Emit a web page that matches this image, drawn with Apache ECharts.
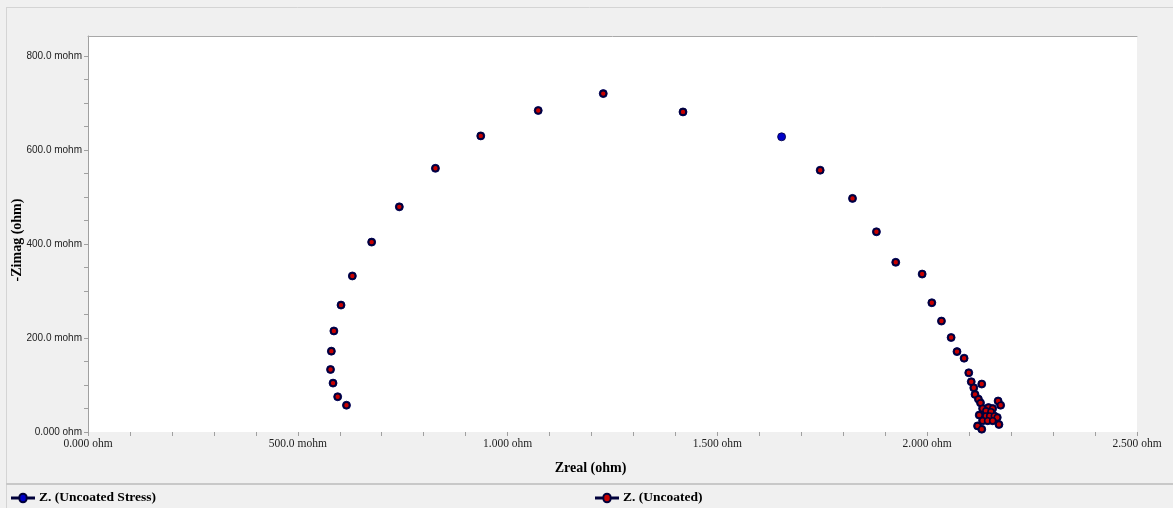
<!DOCTYPE html>
<html>
<head>
<meta charset="utf-8">
<script src="https://cdn.jsdelivr.net/npm/echarts@6/dist/echarts.min.js"></script>
<style>
html,body{margin:0;padding:0;background:#f0f0f0;}
#chart{width:1173px;height:508px;}
</style>
</head>
<body>
<div id="chart"></div>
<script>
// Zreal (ohm)
const zRealStress = [0.616,0.595,0.584,0.578,0.580,0.586,0.603,0.630,0.676,0.742,0.828,0.936,1.073,1.228,1.418,1.653,1.745,1.822,1.879,1.925,1.988,2.011,2.034,2.057,2.071,2.088,2.099,2.105,2.130,2.111,2.114,2.122,2.127,2.169,2.175,2.132,2.146,2.156,2.140,2.152,2.124,2.140,2.149,2.160,2.167,2.132,2.144,2.156,2.171,2.120,2.130];
// -Zimag (mohm)
const zImagStress = [57,75,104,133,172,215,270,332,404,479,561,630,684,720,681,628,557,497,426,361,336,275,236,201,171,157,126,107,102,94,80,70,62,66,57,50,52,50,45,43,36,34,34,34,31,24,24,24,16,13,6];
const zRealUncoated = [0.616,0.595,0.584,0.578,0.580,0.586,0.603,0.630,0.676,0.742,0.828,0.936,1.073,1.228,1.418,1.745,1.822,1.879,1.925,1.988,2.011,2.034,2.057,2.071,2.088,2.099,2.105,2.130,2.111,2.114,2.122,2.127,2.169,2.175,2.132,2.146,2.156,2.140,2.152,2.124,2.140,2.149,2.160,2.167,2.132,2.144,2.156,2.171,2.120,2.130];
const zImagUncoated = [57,75,104,133,172,215,270,332,404,479,561,630,684,720,681,557,497,426,361,336,275,236,201,171,157,126,107,102,94,80,70,62,66,57,50,52,50,45,43,36,34,34,34,31,24,24,24,16,13,6];

const seriesNames = ['Z. (Uncoated Stress)', 'Z. (Uncoated)'];
const xTickValues = [0, 0.5, 1.0, 1.5, 2.0, 2.5];
const xTickLabels = ['0.000 ohm', '500.0 mohm', '1.000 ohm', '1.500 ohm', '2.000 ohm', '2.500 ohm'];
const xMinorTicks = [0,0.1,0.2,0.3,0.4,0.5,0.6,0.7,0.8,0.9,1.0,1.1,1.2,1.3,1.4,1.5,1.6,1.7,1.8,1.9,2.0,2.1,2.2,2.3,2.4,2.5];
const yTickValues = [0, 200, 400, 600, 800];
const yTickLabels = ['0.000 ohm', '200.0 mohm', '400.0 mohm', '600.0 mohm', '800.0 mohm'];
const yMinorTicks = [0,50,100,150,200,250,300,350,400,450,500,550,600,650,700,750,800];

const zip = (a, b) => a.map((v, i) => [v, b[i]]);
const lookup = (vals, labels) => (v) => {
  const i = vals.findIndex(t => Math.abs(t - v) < 1e-9);
  return i >= 0 ? labels[i] : '';
};

const legendIcon = 'path://M0,4.4 L7.2,4.4 A3.6,3.6 0 0,1 14.4,4.4 L21.6,4.4 L21.6,5.6 L14.4,5.6 A3.6,3.6 0 0,1 7.2,5.6 L0,5.6 Z';

const chart = echarts.init(document.getElementById('chart'));
chart.setOption({
  backgroundColor: '#f0f0f0',
  animation: false,
  grid: { left: 88, right: 36, top: 36, bottom: 76, show: true, backgroundColor: '#ffffff', borderWidth: 0,
    containLabel: false, outerBoundsMode: 'none' },
  graphic: [
    { type: 'line', shape: { x1: 6, y1: 7.5, x2: 1173, y2: 7.5 }, style: { stroke: '#d4d4d4', lineWidth: 1 } },
    { type: 'line', shape: { x1: 6.5, y1: 7, x2: 6.5, y2: 508 }, style: { stroke: '#d4d4d4', lineWidth: 1 } },
    { type: 'line', shape: { x1: 6, y1: 484, x2: 1173, y2: 484 }, style: { stroke: '#c8c8c8', lineWidth: 2 } }
  ],
  legend: [
    { data: [seriesNames[0]], left: 6, top: 486, itemWidth: 22, itemHeight: 11, itemGap: 6,
      icon: legendIcon, textStyle: { fontFamily: 'Liberation Serif', fontWeight: 'bold', fontSize: 13.5, color: '#000' } },
    { data: [seriesNames[1]], left: 590, top: 486, itemWidth: 22, itemHeight: 11, itemGap: 6,
      icon: legendIcon, textStyle: { fontFamily: 'Liberation Serif', fontWeight: 'bold', fontSize: 13.5, color: '#000' } }
  ],
  xAxis: [{
    type: 'value', min: 0, max: 2.5, interval: 0.5,
    name: 'Zreal (ohm)', nameLocation: 'middle', nameGap: 29, nameMoveOverlap: false,
    nameTextStyle: { fontFamily: 'Liberation Serif', fontWeight: 'bold', fontSize: 14, color: '#000', padding: [0, 44, 0, 0] },
    axisLine: { show: false },
    axisTick: { show: true, length: 4, customValues: xMinorTicks, lineStyle: { color: '#a0a0a0' } },
    axisLabel: { customValues: xTickValues, formatter: lookup(xTickValues, xTickLabels), margin: 6,
      fontFamily: 'Liberation Serif', fontSize: 11.5, color: '#222' },
    splitLine: { show: false }
  }, {
    type: 'value', position: 'top', min: 0, max: 2.5,
    axisLine: { show: true, lineStyle: { color: '#a8a8a8', width: 1 } },
    axisTick: { show: false }, axisLabel: { show: false }, splitLine: { show: false }
  }],
  yAxis: {
    type: 'value', min: 0, max: 842.5,
    name: '-Zimag (ohm)', nameLocation: 'middle', nameGap: 64, nameRotate: 90, nameMoveOverlap: false,
    nameTextStyle: { fontFamily: 'Liberation Serif', fontWeight: 'bold', fontSize: 14, color: '#000', padding: [0, 12, 0, 0] },
    axisLine: { show: true, lineStyle: { color: '#a0a0a0', width: 1 } },
    axisTick: { show: true, length: 4, customValues: yMinorTicks, lineStyle: { color: '#a0a0a0' } },
    axisLabel: { customValues: yTickValues, formatter: lookup(yTickValues, yTickLabels), margin: 6,
      fontFamily: 'Liberation Sans', fontSize: 10, color: '#222' },
    splitLine: { show: false }
  },
  series: [
    { name: seriesNames[0], type: 'scatter', data: zip(zRealStress, zImagStress),
      symbol: 'circle', symbolSize: 8,
      itemStyle: { color: '#0000c8', borderColor: '#00003a', borderWidth: 0.8, opacity: 1 } },
    { name: seriesNames[1], type: 'scatter', data: zip(zRealUncoated, zImagUncoated),
      symbol: 'circle', symbolSize: 6,
      itemStyle: { color: '#c80000', borderColor: '#00003a', borderWidth: 1.6, opacity: 1 } }
  ]
});
</script>
</body>
</html>
